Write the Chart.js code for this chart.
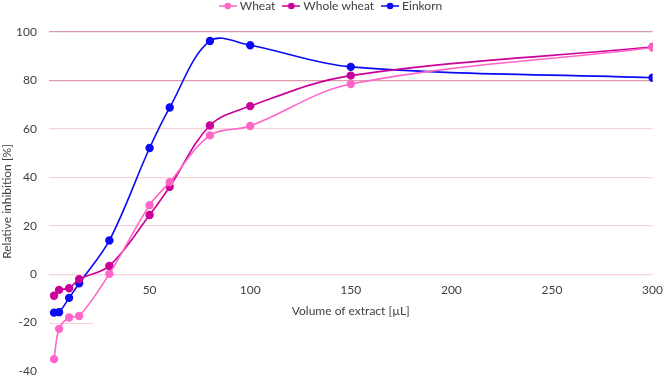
<!DOCTYPE html>
<html>
<head>
<meta charset="utf-8">
<script src="https://cdn.jsdelivr.net/npm/chart.js@4"></script>
<style>
  html, body { margin: 0; padding: 0; background: #fff; }
  #wrap { width: 664px; height: 376px; position: relative; }
</style>
</head>
<body>
<div id="wrap"><canvas id="chart"></canvas></div>
<script>
// ===== Data =====
const volumes    = [2.5, 5, 10, 15, 30, 50, 60, 80, 100, 150, 300];   // µL
const wheat      = [-35.1, -22.6, -17.9, -17.3, 0.1, 28.5, 38.0, 57.3, 61.2, 78.5, 93.5];
const wholeWheat = [-8.9, -6.5, -5.8, -2.1, 3.4, 24.4, 36.1, 61.4, 69.4, 82.0, 93.8];
const einkorn    = [-15.9, -15.7, -9.8, -3.8, 13.9, 52.1, 68.8, 96.3, 94.5, 85.6, 81.1];
const yTicks     = [-40, -20, 0, 20, 40, 60, 80, 100];

const FONT = 'Lato, "Liberation Sans", sans-serif';
const TEXT = '#404040';

// legend marker: short line with a dot (Excel style)
function lineDot(color) {
  const c = document.createElement('canvas');
  c.width = 18; c.height = 8;
  const g = c.getContext('2d');
  g.strokeStyle = color; g.lineWidth = 1.5;
  g.beginPath(); g.moveTo(0, 4); g.lineTo(18, 4); g.stroke();
  g.fillStyle = color;
  g.beginPath(); g.arc(9, 4, 3.3, 0, Math.PI * 2); g.fill();
  return c;
}

// push the legend up to the very top without moving the plot
const legendGap = {
  id: 'legendGap',
  beforeInit(chart) {
    const fit = chart.legend.fit;
    chart.legend.fit = function () { fit.call(this); this.height += 10; };
  },
};

// the -20 gridline only shows as a short stub at the left in the original
const stubGrid = {
  id: 'stubGrid',
  beforeDatasetsDraw(chart) {
    const { ctx, scales: { x, y } } = chart;
    const py = Math.round(y.getPixelForValue(-20)) + 0.5;
    ctx.save();
    ctx.strokeStyle = '#f7d3dc';
    ctx.lineWidth = 1.2;
    ctx.beginPath();
    ctx.moveTo(x.getPixelForValue(0), py);
    ctx.lineTo(x.getPixelForValue(22), py);
    ctx.stroke();
    ctx.restore();
  },
};

const series = [
  { label: 'Wheat',       data: wheat,      color: '#ff66c8' },
  { label: 'Whole wheat', data: wholeWheat, color: '#cc0099' },
  { label: 'Einkorn',     data: einkorn,    color: '#0a0af5' },
];

new Chart(document.getElementById('chart'), {
  type: 'line',
  data: {
    datasets: series.map(s => ({
      label: s.label,
      data: volumes.map((x, i) => ({ x, y: s.data[i] })),
      borderColor: s.color,
      backgroundColor: s.color,
      borderWidth: 1.6,
      pointRadius: 3.4,
      pointHoverRadius: 3.4,
      pointStyle: 'circle',
      tension: 0.35,
    })),
  },
  plugins: [legendGap, stubGrid],
  options: {
    responsive: true,
    maintainAspectRatio: false,
    animation: false,
    layout: { padding: { left: 0, right: 0, top: -10, bottom: 0 } },
    plugins: {
      tooltip: { enabled: false },
      legend: {
        position: 'top',
        labels: {
          color: TEXT,
          font: { family: FONT, size: 12 },
          usePointStyle: true,
          padding: 10,
          boxHeight: 8,
          generateLabels: chart => chart.data.datasets.map((d, i) => ({
            text: d.label,
            pointStyle: lineDot(d.borderColor),
            fontColor: TEXT,
            datasetIndex: i,
            lineWidth: 0,
          })),
        },
      },
    },
    scales: {
      x: {
        type: 'linear',
        position: { y: 0 },
        min: 0,
        max: 300,
        grid: { display: false },
        border: { display: false },
        ticks: {
          stepSize: 50,
          color: TEXT,
          font: { family: FONT, size: 12 },
          padding: 1,
          maxRotation: 0,
          callback: v => v === 0 ? '' : v,
        },
        title: {
          display: true,
          text: 'Volume of extract [µL]',
          color: TEXT,
          font: { family: FONT, size: 12 },
          padding: { top: 5, bottom: 0 },
        },
      },
      y: {
        min: -40,
        max: 100,
        afterBuildTicks: scale => { scale.ticks = yTicks.map(v => ({ value: v })); },
        afterFit: scale => {
          scale.width = 49;
          scale.paddingBottom = 5;
        },
        grid: {
          drawTicks: false,
          lineWidth: 1.2,
          color: c => {
            const v = c.tick.value;
            if (v >= 80) return '#dc9aa8';
            if (v < 0) return 'rgba(0,0,0,0)';
            return '#f7d3dc';
          },
        },
        border: { display: false },
        ticks: {
          color: TEXT,
          font: { family: FONT, size: 12 },
          padding: 12,
        },
        title: {
          display: true,
          text: 'Relative inhibition [%]',
          color: TEXT,
          font: { family: FONT, size: 12 },
          padding: { top: 0, bottom: 6 },
        },
      },
    },
  },
});
</script>
</body>
</html>
